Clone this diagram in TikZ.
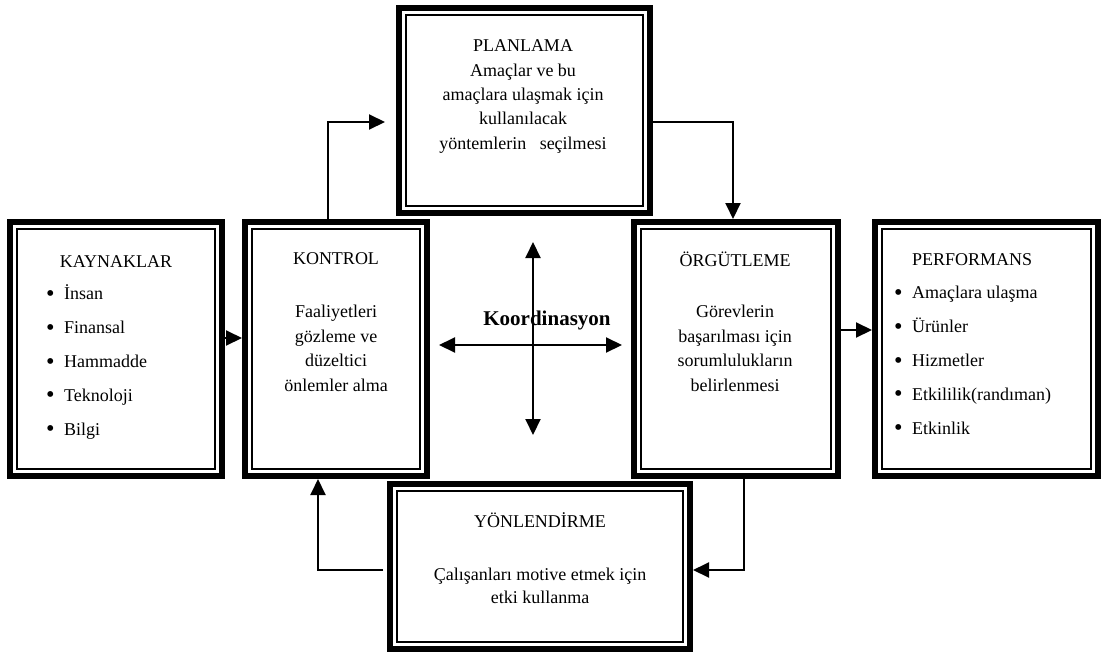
\documentclass[tikz,border=0pt]{standalone}
\usepackage{fontspec}
\usepackage{graphicx}
\setmainfont{Liberation Serif}
\usetikzlibrary{arrows.meta}
\newcommand{\bulitem}{\makebox[18pt][l]{\raisebox{-0.09em}{\scalebox{1.35}{\textbullet}}}}
\tikzset{
  frame/.style={draw, line width=6pt, fill=white, inner sep=0pt,
    path picture={\draw[line width=1.5pt]
      ([xshift=7pt,yshift=-7pt]path picture bounding box.north west) rectangle
      ([xshift=-7pt,yshift=7pt]path picture bounding box.south east);}},
  ttl/.style={inner sep=0pt, font=\fontsize{18}{22}\selectfont},
  body/.style={inner sep=0pt, align=center, font=\fontsize{18}{24.5}\selectfont},
  lst/.style={inner sep=0pt, align=left, font=\fontsize{18}{33.8}\selectfont},
  conn/.style={line width=2pt, -{Triangle[length=16pt,width=15pt]}},
  cross/.style={line width=2pt, {Triangle[length=16pt,width=15pt]}-{Triangle[length=16pt,width=15pt]}}
}
\begin{document}
\begin{tikzpicture}[x=1pt,y=-1pt]
\useasboundingbox[fill=white] (0,0) rectangle (1102,653);
% boxes
\node[frame, minimum width=212pt, minimum height=254pt] (kay) at (116,349) {};
\node[frame, minimum width=182pt, minimum height=254pt] (kon) at (336,349) {};
\node[frame, minimum width=251pt, minimum height=205pt] (plan) at (524.5,110.5) {};
\node[frame, minimum width=204pt, minimum height=254pt] (org) at (736,349) {};
\node[frame, minimum width=223pt, minimum height=254pt] (perf) at (986.5,349) {};
\node[frame, minimum width=300pt, minimum height=165pt] (yon) at (540,566.5) {};
% texts
\node[ttl] (kayT) at (116,262) {KAYNAKLAR};
\node[lst, anchor=west] (kayL) at (46,362) {\bulitem İnsan\\ \bulitem Finansal\\ \bulitem Hammadde\\ \bulitem Teknoloji\\ \bulitem Bilgi};
\node[ttl] (konT) at (336,259) {KONTROL};
\node[body] (konB) at (336,348.5) {Faaliyetleri\\ gözleme ve\\ düzeltici\\ önlemler alma};
\node[body, font=\fontsize{18}{24.3}\selectfont] (planB) at (523,96.5) {PLANLAMA\\ Amaçlar ve bu\\ amaçlara ulaşmak için\\ kullanılacak\\ yöntemlerin\ \ \ seçilmesi};
\node[ttl] (orgT) at (735,259) {ÖRGÜTLEME};
\node[body] (orgB) at (735,348.5) {Görevlerin\\ başarılması için\\ sorumlulukların\\ belirlenmesi};
\node[ttl, anchor=west] (perfT) at (912,260) {PERFORMANS};
\node[lst, anchor=west] (perfL) at (894,361) {\bulitem Amaçlara ulaşma\\ \bulitem Ürünler\\ \bulitem Hizmetler\\ \bulitem Etkililik(randıman)\\ \bulitem Etkinlik};
\node[ttl] (yonT) at (540,520) {YÖNLENDİRME};
\node[body, font=\fontsize{18}{22.5}\selectfont] (yonB) at (540,586) {Çalışanları motive etmek için\\ etki kullanma};
% connectors
\draw[conn] ([yshift=11pt]kay.east) -- ([yshift=11pt]kon.west);
\draw[conn] ([xshift=-8pt]kon.north) |- ([xshift=-11pt,yshift=-11.5pt]plan.west);
\draw[conn] ([yshift=-11.5pt]plan.east) -| ([xshift=-3pt]org.north);
\draw[conn] ([yshift=19pt]org.east) -- ([yshift=19pt]perf.west);
\draw[conn] ([xshift=8pt]org.south) |- ([yshift=-3.5pt]yon.east);
\draw[conn] ([xshift=-4pt,yshift=-3.5pt]yon.west) -| ([xshift=-18pt]kon.south);
% coordination cross
\coordinate (vt) at (533,242);
\coordinate (vb) at (533,435);
\coordinate (hl) at (439,345);
\coordinate (hr) at (622,345);
\draw[cross] (vt) -- (vb);
\draw[cross] (hl) -- (hr);
\node[inner sep=0pt, font=\fontsize{21}{25}\selectfont\bfseries] (koord) at (547,320) {Koordinasyon};
\end{tikzpicture}
\end{document}
